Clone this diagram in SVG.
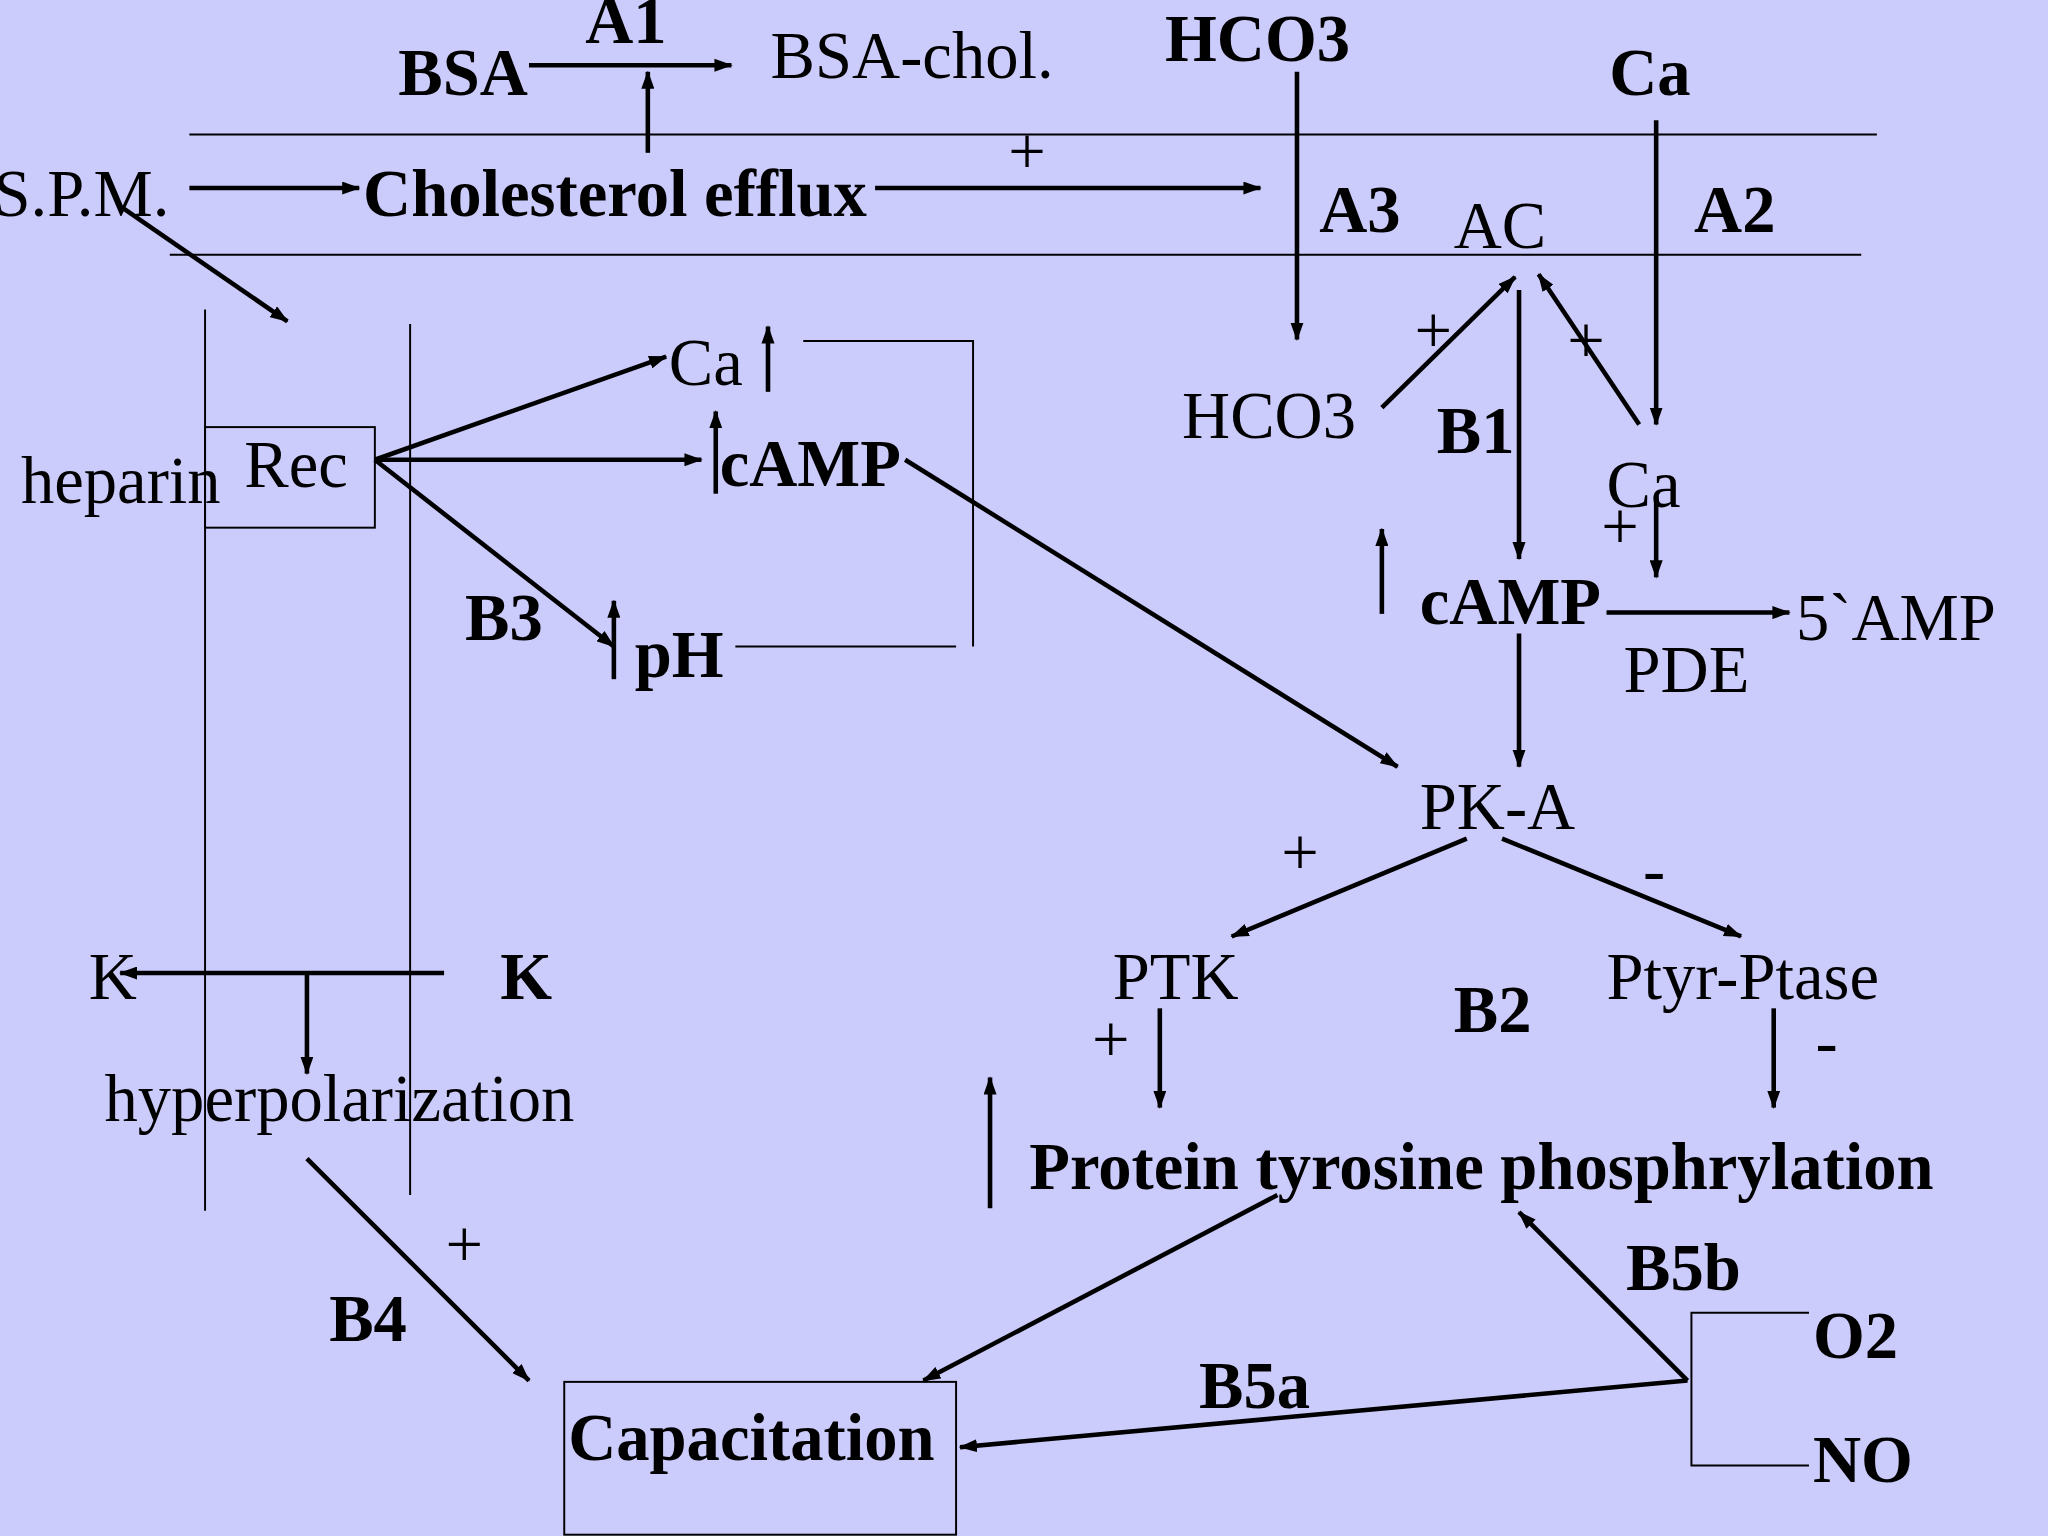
<svg xmlns="http://www.w3.org/2000/svg" width="2048" height="1536" viewBox="0 0 2048 1536">
<defs>
<marker id="ah" markerWidth="14" markerHeight="10" refX="13" refY="5" orient="auto" markerUnits="userSpaceOnUse"><path d="M0,0 L14,5 L0,10 z" fill="#000"/></marker>
<style>
text{font-family:"Liberation Serif",serif;font-size:51px;fill:#000}
.b{font-weight:bold}
.l{stroke:#000;stroke-width:3;fill:none}
.a{stroke:#000;stroke-width:3.5;fill:none;marker-end:url(#ah)}
.t{stroke:#000;stroke-width:1.5;fill:none}
</style>
</defs>
<rect width="2048" height="1536" fill="#ccccfc"/>
<g transform="scale(1.30612)">
<g id="connectors">
<line class="t" x1="145" y1="103" x2="1437" y2="103"/>
<line class="t" x1="130" y1="195" x2="1425" y2="195"/>
<line class="t" x1="157" y1="237" x2="157" y2="927"/>
<line class="t" x1="314" y1="248" x2="314" y2="915"/>
<line class="a" x1="405" y1="50" x2="560" y2="50"/>
<line class="a" x1="496" y1="117" x2="496" y2="55"/>
<line class="a" x1="993" y1="55" x2="993" y2="260"/>
<line class="a" x1="1268" y1="92" x2="1268" y2="325"/>
<line class="a" x1="145" y1="144" x2="275" y2="144"/>
<line class="a" x1="670" y1="144" x2="965" y2="144"/>
<line class="a" x1="95" y1="160" x2="220" y2="246"/>
<line class="a" x1="287" y1="352" x2="510" y2="273"/>
<line class="a" x1="287" y1="352" x2="537" y2="352"/>
<line class="a" x1="287" y1="352" x2="470" y2="495"/>
<line class="a" x1="588" y1="300" x2="588" y2="250"/>
<polyline class="t" points="615,261 745,261 745,495"/>
<line class="t" x1="563" y1="495" x2="732" y2="495"/>
<line class="a" x1="548" y1="378" x2="548" y2="315"/>
<line class="a" x1="470" y1="520" x2="470" y2="460"/>
<line class="a" x1="693" y1="352" x2="1070" y2="587"/>
<line class="a" x1="1058" y1="312" x2="1160" y2="212"/>
<line class="a" x1="1255" y1="325" x2="1178" y2="210"/>
<line class="a" x1="1163" y1="222" x2="1163" y2="428"/>
<line class="a" x1="1268" y1="380" x2="1268" y2="442"/>
<line class="a" x1="1058" y1="470" x2="1058" y2="405"/>
<line class="a" x1="1230" y1="469" x2="1370" y2="469"/>
<line class="a" x1="1163" y1="485" x2="1163" y2="587"/>
<line class="a" x1="1123" y1="642" x2="943" y2="717"/>
<line class="a" x1="1150" y1="642" x2="1333" y2="717"/>
<line class="a" x1="888" y1="772" x2="888" y2="848"/>
<line class="a" x1="1358" y1="772" x2="1358" y2="848"/>
<line class="a" x1="758" y1="925" x2="758" y2="825"/>
<line class="a" x1="978" y1="915" x2="707" y2="1057"/>
<line class="a" x1="1292" y1="1057" x2="1163" y2="928"/>
<polyline class="t" points="1385,1005 1295,1005 1295,1122 1385,1122"/>
<line class="a" x1="1292" y1="1057" x2="735" y2="1108"/>
<line class="a" x1="340" y1="745" x2="92" y2="745"/>
<line class="a" x1="235" y1="745" x2="235" y2="822"/>
<line class="a" x1="235" y1="887" x2="405" y2="1057"/>
</g>
<g id="labels">
<text class="b" x="305" y="73">BSA</text>
<text class="b" x="448" y="33">A1</text>
<text x="590" y="60">BSA-chol.</text>
<text class="b" x="892" y="47">HCO3</text>
<text class="b" x="1232" y="73">Ca</text>
<text x="-5" y="165">S.P.M.</text>
<text class="b" x="278" y="165">Cholesterol efflux</text>
<text x="772" y="133">+</text>
<text class="b" x="1010" y="178">A3</text>
<text x="1113" y="190">AC</text>
<text class="b" x="1297" y="178">A2</text>
<text x="16" y="385">heparin</text>
<text x="512" y="295">Ca</text>
<text class="b" x="551" y="372">cAMP</text>
<text class="b" x="356" y="490">B3</text>
<text class="b" x="486" y="518">pH</text>
<text x="905" y="335">HCO3</text>
<text x="1083" y="270">+</text>
<text x="1200" y="278">+</text>
<text class="b" x="1100" y="347">B1</text>
<text x="1230" y="388">Ca</text>
<text x="1226" y="420">+</text>
<text class="b" x="1087" y="478">cAMP</text>
<text x="1375" y="490">5`AMP</text>
<text x="1243" y="530">PDE</text>
<text x="1087" y="635">PK-A</text>
<text x="981" y="670">+</text>
<text x="1258" y="683">-</text>
<text x="852" y="765">PTK</text>
<text class="b" x="1113" y="790">B2</text>
<text x="1230" y="765">Ptyr-Ptase</text>
<text x="836" y="813">+</text>
<text x="1390" y="815">-</text>
<text class="b" x="788" y="910">Protein tyrosine phosphrylation</text>
<text class="b" x="1245" y="988">B5b</text>
<text class="b" x="1388" y="1040">O2</text>
<text class="b" x="1388" y="1135">NO</text>
<text class="b" x="918" y="1078">B5a</text>
<text x="68" y="765">K</text>
<text class="b" x="383" y="765">K</text>
<text x="80" y="858">hyperpolarization</text>
<text x="341" y="970">+</text>
<text class="b" x="252" y="1027">B4</text>
</g>
<g id="rec"><rect class="t" x="157" y="327" width="130" height="77"/><text x="187" y="373">Rec</text></g>
<g id="capacitation"><rect class="t" x="432" y="1058" width="300" height="117"/><text class="b" x="435" y="1118">Capacitation</text></g>
</g>
</svg>
